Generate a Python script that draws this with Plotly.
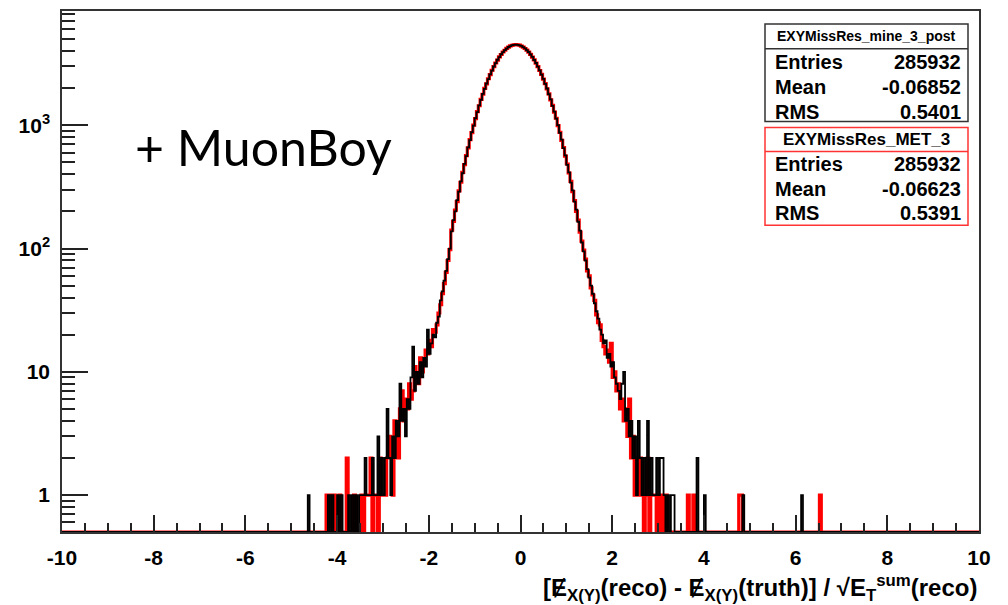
import numpy as np
import plotly.graph_objects as go

# ---------------- data (counts per bin) ----------------
BIN_WIDTH = 0.04
X_MIN, X_MAX = -10.0, 10.0
DENSE_FIRST_CENTER = -3.50   # centre of first bin of the dense lists

black_left_tail = [1, 1, 1, 2, 1, 1, 1, 2, 1, 1, 3, 1, 2, 1, 2, 5, 2, 1, 3, 2,
                   4, 3, 8, 4, 5, 3, 6, 5, 9, 16, 7, 10, 8, 12, 9, 13, 11, 22, 14, 17,
                   20, 19, 25, 28, 38, 45, 55, 66, 82, 100]
black_core = [138, 170, 200, 247, 289, 350, 408, 487, 561, 662, 757, 880, 994, 1141, 1279,
              1450, 1607, 1798, 1975, 2181, 2369, 2590, 2779, 2998, 3187, 3399, 3570, 3766,
              3915, 4075, 4190, 4315, 4388, 4463, 4490, 4512, 4488, 4451, 4401, 4300, 4205,
              4060, 3930, 3750, 3585, 3384, 3200, 2985, 2792, 2574, 2380, 2168, 1987, 1785,
              1620, 1437, 1290, 1130, 1004, 868, 765, 652, 570, 478, 415, 343, 296, 240, 207,
              165, 140]
black_right_tail = [112, 95, 80, 68, 58, 50, 43, 36, 31, 27, 22, 20, 17, 18, 13, 14, 11, 12, 9, 8,
                    7, 6, 8, 10, 4, 5, 3, 4, 2, 3, 1, 4, 2, 1, 2, 1, 4, 1, 2, 1,
                    1, 2, 1, 2, 2, 1, 0, 1, 0, 1]
black_outlier_x = [-4.62, -4.18, -4.10, -3.98, -3.90, -3.74, -3.66, -3.58, 3.34, 3.86, 4.02, 4.86, 6.14]
black_outlier_n = [1, 1, 1, 1, 1, 1, 1, 1, 1, 2, 1, 1, 1]

red_left_tail = [0, 1, 0, 1, 1, 1, 2, 0, 1, 1, 0, 2, 1, 1, 1, 2, 3, 2, 1, 4,
                 3, 2, 5, 7, 4, 6, 5, 8, 6, 7, 11, 9, 8, 13, 10, 12, 15, 14, 18, 16,
                 22, 21, 24, 30, 35, 43, 52, 64, 80, 98]
red_core = [141, 166, 205, 240, 294, 345, 415, 480, 568, 655, 765, 870, 1003, 1130, 1290,
            1440, 1620, 1785, 1990, 2170, 2385, 2575, 2795, 2985, 3200, 3380, 3590, 3750,
            3930, 4060, 4205, 4300, 4400, 4450, 4500, 4505, 4495, 4460, 4390, 4310, 4195,
            4070, 3915, 3760, 3575, 3395, 3190, 2995, 2780, 2585, 2370, 2180, 1975, 1795,
            1605, 1450, 1280, 1140, 995, 875, 755, 660, 562, 485, 410, 350, 290, 245, 200,
            170, 136]
red_right_tail = [115, 97, 82, 66, 60, 48, 42, 38, 29, 25, 24, 18, 16, 14, 15, 12, 17, 9, 10, 7,
                  8, 5, 6, 4, 5, 3, 6, 2, 3, 1, 2, 1, 2, 1, 0, 1, 2, 0, 1, 1,
                  1, 0, 1, 0, 1, 0, 1, 0, 0, 0]
red_outlier_x = [-4.22, -4.14, -4.06, -3.94, -3.78, -3.62, 3.66, 3.78, 4.78, 4.82, 6.54]
red_outlier_n = [1, 1, 1, 1, 2, 1, 1, 1, 1, 1, 1]

x_tick_vals = [-10, -8, -6, -4, -2, 0, 2, 4, 6, 8, 10]
y_tick_vals = [1, 10, 100, 1000]
y_tick_text = ["<b>1</b>", "<b>10</b>", "<b>10<sup>2</sup></b>", "<b>10<sup>3</sup></b>"]

stats_black = ("EXYMissRes_mine_3_post", [("Entries", "285932"), ("Mean", "-0.06852"), ("RMS", "0.5401")])
stats_red = ("EXYMissRes_MET_3", [("Entries", "285932"), ("Mean", "-0.06623"), ("RMS", "0.5391")])

Y_LOW, Y_HIGH = 0.502, 8450.0

# ---------------- geometry helpers (pixel -> paper) ----------------
W, H = 1008, 605
L, R, T, B = 62, 979, 9, 532


def px(xp):
    return (xp - L) / (R - L)


def py(yp):
    return (B - yp) / (B - T)


nbins = int(round((X_MAX - X_MIN) / BIN_WIDTH))
edges = X_MIN + BIN_WIDTH * np.arange(nbins + 1)


def build_counts(left, core, right, ox, on):
    counts = np.zeros(nbins)
    dense = list(left) + list(core) + list(right)
    i0 = int(round((DENSE_FIRST_CENTER - X_MIN) / BIN_WIDTH - 0.5))
    counts[i0:i0 + len(dense)] = dense
    for xv, n in zip(ox, on):
        idx = int(np.floor((xv - X_MIN) / BIN_WIDTH + 1e-9))
        counts[idx] += n
    return counts


def step_xy(counts):
    yv = np.where(counts > 0, counts, Y_LOW)
    return edges, np.append(yv, yv[-1])


cb = build_counts(black_left_tail, black_core, black_right_tail, black_outlier_x, black_outlier_n)
cr = build_counts(red_left_tail, red_core, red_right_tail, red_outlier_x, red_outlier_n)

fig = go.Figure()
xr, yr = step_xy(cr)
fig.add_trace(go.Scatter(x=xr, y=yr, mode="lines", line=dict(color="#ff0000", width=3.2, shape="hv"),
                         hoverinfo="skip"))
xb, yb = step_xy(cb)
fig.add_trace(go.Scatter(x=xb, y=yb, mode="lines", line=dict(color="#000000", width=1.8, shape="hv"),
                         hoverinfo="skip"))

minor_y = []
for dec in [0.1, 1, 10, 100, 1000]:
    for m in range(2, 10):
        minor_y.append(m * dec)

axis_font = dict(family="Liberation Sans, Arial, sans-serif", size=21, color="black", weight="bold")

fig.update_layout(
    width=W, height=H,
    margin=dict(l=L, r=W - R, t=T, b=H - B),
    paper_bgcolor="white", plot_bgcolor="white",
    showlegend=False,
    xaxis=dict(range=[X_MIN, X_MAX], showgrid=False, zeroline=False,
               showline=True, mirror=True, linecolor="#333333", linewidth=1.5,
               ticks="inside", ticklen=17, tickwidth=1.5, tickcolor="#222222",
               tickmode="array", tickvals=x_tick_vals,
               ticktext=[str(v) for v in x_tick_vals],
               tickfont=axis_font, ticklabelstandoff=6,
               minor=dict(ticks="inside", ticklen=9, tickwidth=1.5, tickcolor="#222222",
                          tick0=X_MIN, dtick=0.5, showgrid=False)),
    yaxis=dict(type="log", range=[np.log10(Y_LOW), np.log10(Y_HIGH)],
               showgrid=False, zeroline=False,
               showline=True, mirror=True, linecolor="#333333", linewidth=1.5,
               ticks="inside", ticklen=26, tickwidth=1.5, tickcolor="#222222",
               tickmode="array", tickvals=y_tick_vals, ticktext=y_tick_text,
               tickfont=axis_font, ticklabelstandoff=6,
               minor=dict(ticks="inside", ticklen=13, tickwidth=1.5, tickcolor="#222222",
                          tickvals=minor_y, showgrid=False)),
)

# ---------------- stats boxes ----------------
shapes = []
annos = []


def stats_box(top, bottom, divider, color, title, title_size, rows, row_ys):
    shapes.append(dict(type="rect", xref="paper", yref="paper",
                       x0=px(765), x1=px(968), y0=py(bottom), y1=py(top),
                       line=dict(color=color, width=1.5), fillcolor="white", layer="above"))
    shapes.append(dict(type="line", xref="paper", yref="paper",
                       x0=px(765), x1=px(968), y0=py(divider), y1=py(divider),
                       line=dict(color=color, width=1.5), layer="above"))
    annos.append(dict(xref="paper", yref="paper", x=px(866.5), y=py((top + divider) / 2),
                      text="<b>%s</b>" % title, showarrow=False, xanchor="center", yanchor="middle",
                      font=dict(family="Liberation Sans Narrow, Liberation Sans, Arial", size=title_size, color="black")))
    for (lab, val), yy in zip(rows, row_ys):
        annos.append(dict(xref="paper", yref="paper", x=px(773), y=py(yy), text="<b>%s</b>" % lab,
                          showarrow=False, xanchor="left", yanchor="middle",
                          font=dict(family="Liberation Sans, Arial", size=20, color="black")))
        annos.append(dict(xref="paper", yref="paper", x=px(963), y=py(yy), text="<b>%s</b>" % val,
                          showarrow=False, xanchor="right", yanchor="middle",
                          font=dict(family="Liberation Sans, Arial", size=20, color="black")))


stats_box(22, 120, 47, "#333333", stats_black[0], 14, stats_black[1], [60, 85, 110])
stats_box(126, 224, 150, "#ff3333", stats_red[0], 17, stats_red[1], [163, 188, 212])

# label inside the frame
annos.append(dict(xref="paper", yref="paper", x=px(133), y=py(146), text="+ MuonBoy",
                  showarrow=False, xanchor="left", yanchor="middle",
                  font=dict(family="Lato, Open Sans, sans-serif", size=50, color="black")))

# x axis title
annos.append(dict(xref="paper", yref="paper", x=1.0, y=py(588),
                  text="<b>[Ɇ<sub>X(Y)</sub>(reco) - Ɇ<sub>X(Y)</sub>(truth)] / √E<sub>T</sub><sup>sum</sup>(reco)</b>",
                  showarrow=False, xanchor="right", yanchor="middle",
                  font=dict(family="Liberation Sans, Arial", size=24, color="black")))

fig.update_layout(shapes=shapes, annotations=annos)
fig.write_html("out.html")
